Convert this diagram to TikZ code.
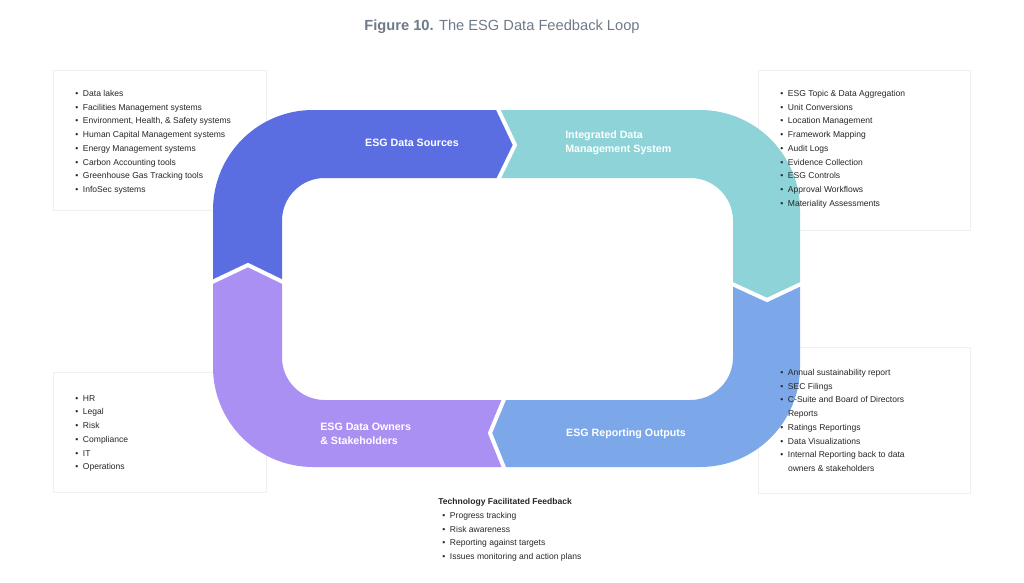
\documentclass[tikz,border=0pt]{standalone}
\usepackage{fontspec}
\setmainfont{Liberation Sans}
\usetikzlibrary{shadows}
\definecolor{cA}{HTML}{5B6EE1}
\definecolor{cB}{HTML}{8DD3D8}
\definecolor{cC}{HTML}{7CA8EA}
\definecolor{cD}{HTML}{AB90F3}
\definecolor{ttl}{HTML}{6E7A88}
\tikzset{
  box/.style={fill=white,draw=black!6,line width=0.4pt,drop shadow={opacity=0.08,shadow xshift=0pt,shadow yshift=-1pt}},
  list/.style={anchor=north west,align=left,font=\fontsize{6.4}{10.3}\selectfont,inner sep=0pt,text=black!85},
  lab/.style={text=white,font=\fontsize{8}{10.5}\selectfont\bfseries,inner sep=0pt},
  sep/.style={white,line width=3pt,line join=miter}
}
\def\ring{{[rounded corners=75pt] (213,110) rectangle (800,467)}
  {[rounded corners=32pt] (282,178) rectangle (733,400)}}
\begin{document}
\begin{tikzpicture}[x=0.75pt,y=-0.75pt]
\useasboundingbox (0,0) rectangle (1024,582);
\node[font=\fontsize{11}{13}\selectfont,text=ttl] (title) at (502,27) {\textbf{Figure 10.} The ESG Data Feedback Loop};
% boxes
\draw[box] (53,70) rectangle (266,210);
\draw[box] (758,70) rectangle (970,230);
\draw[box] (53,372) rectangle (266,492);
\draw[box] (758,347) rectangle (970,493);
% ring
\begin{scope}\clip (0,0)--(497,0)--(497,110)--(515,145)--(497,180)--(400,283)--(282,283)--(248,265)--(213,283)--(0,283)--cycle;
\fill[cA,even odd rule] \ring; \end{scope}
\begin{scope}\clip (497,0)--(1024,0)--(1024,283)--(800,283)--(767,300)--(733,283)--(600,283)--(497,180)--(515,145)--(497,110)--cycle;
\fill[cB,even odd rule] \ring; \end{scope}
\begin{scope}\clip (1024,283)--(1024,582)--(505,582)--(505,467)--(490,433)--(505,400)--(600,300)--(733,283)--(767,300)--(800,283)--cycle;
\fill[cC,even odd rule] \ring; \end{scope}
\begin{scope}\clip (0,283)--(213,283)--(248,265)--(282,283)--(400,283)--(600,300)--(505,400)--(490,433)--(505,467)--(505,582)--(0,582)--cycle;
\fill[cD,even odd rule] \ring; \end{scope}
\draw[sep] (497,107)--(515,145)--(497,182);
\draw[sep] (803,283)--(767,300)--(730,283);
\draw[sep] (505,470)--(490,433)--(505,397);
\draw[sep] (210,283)--(248,265)--(285,283);
\node[lab] (src) at (412,143) {ESG Data Sources};
\node[lab,anchor=west,align=left] (idm) at (565,143) {Integrated Data\\Management System};
\node[lab] (rep) at (626,434) {ESG Reporting Outputs};
\node[lab,anchor=west,align=left] (own) at (320,434) {ESG Data Owners\\\& Stakeholders};
% lists
\node[list] (l1) at (75,90) {• \ Data lakes\\• \ Facilities Management systems\\• \ Environment, Health, \& Safety systems\\• \ Human Capital Management systems\\• \ Energy Management systems\\• \ Carbon Accounting tools\\• \ Greenhouse Gas Tracking tools\\• \ InfoSec systems};
\node[list] (l2) at (780,90) {• \ ESG Topic \& Data Aggregation\\• \ Unit Conversions\\• \ Location Management\\• \ Framework Mapping\\• \ Audit Logs\\• \ Evidence Collection\\• \ ESG Controls\\• \ Approval Workflows\\• \ Materiality Assessments};
\node[list] (l3) at (75,395) {• \ HR\\• \ Legal\\• \ Risk\\• \ Compliance\\• \ IT\\• \ Operations};
\node[list] (l4) at (780,369) {• \ Annual sustainability report\\• \ SEC Filings\\• \ C-Suite and Board of Directors\\\phantom{• \ }Reports\\• \ Ratings Reportings\\• \ Data Visualizations\\• \ Internal Reporting back to data\\\phantom{• \ }owners \& stakeholders};
\node[list,font=\fontsize{6.4}{10.3}\selectfont\bfseries] (fbt) at (438,498) {Technology Facilitated Feedback};
\node[list] (l5) at (442,512) {• \ Progress tracking\\• \ Risk awareness\\• \ Reporting against targets\\• \ Issues monitoring and action plans};
\end{tikzpicture}
\end{document}
